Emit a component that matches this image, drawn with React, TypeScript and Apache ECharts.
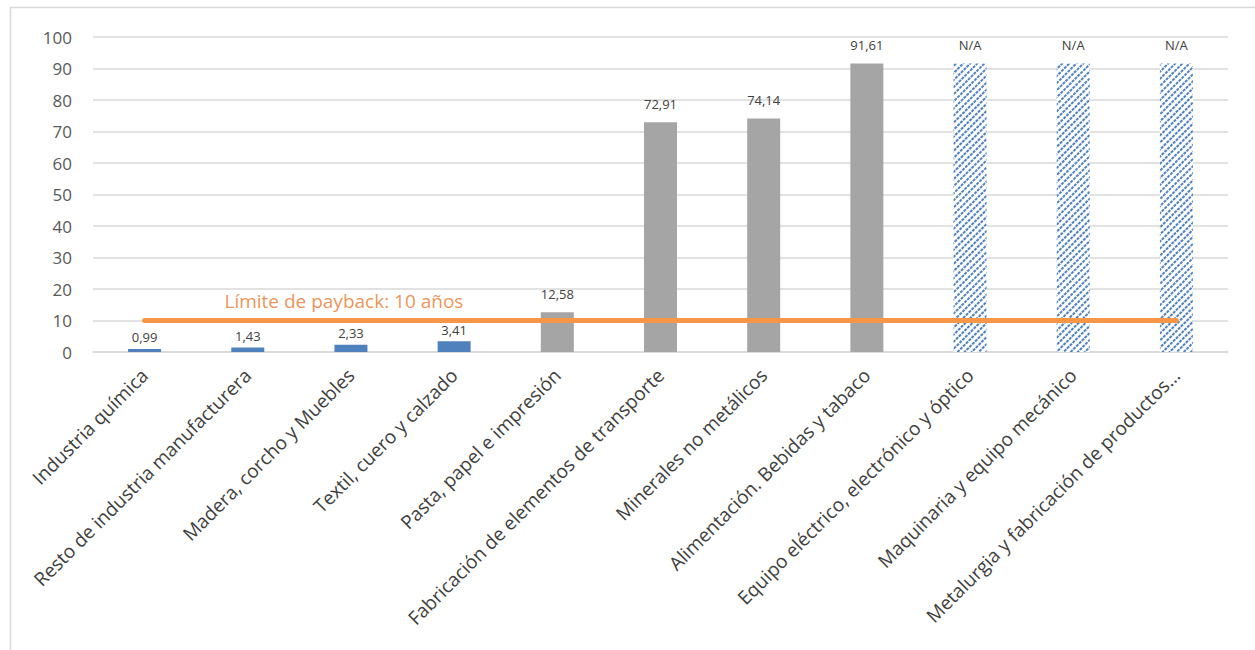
import React, { useEffect, useRef } from "react";
import * as echarts from "echarts";

const categories = [
  "Industria química",
  "Resto de industria manufacturera",
  "Madera, corcho y Muebles",
  "Textil, cuero y calzado",
  "Pasta, papel e impresión",
  "Fabricación de elementos de transporte",
  "Minerales no metálicos",
  "Alimentación. Bebidas y tabaco",
  "Equipo eléctrico, electrónico y óptico",
  "Maquinaria y equipo mecánico",
  "Metalurgia y fabricación de productos…",
];
const paybackYears: (number | null)[] = [0.99, 1.43, 2.33, 3.41, 12.58, 72.91, 74.14, 91.61, null, null, null];
const band = ["bajo", "bajo", "bajo", "bajo", "alto", "alto", "alto", "alto", "nd", "nd", "nd"];
const naPlaceholder: (number | null)[] = [null, null, null, null, null, null, null, null, 91.61, 91.61, 91.61];
const paybackLimit = [10, 10, 10, 10, 10, 10, 10, 10, 10, 10, 10];
const limitLabel = "Límite de payback: 10 años";
const limitLabelAt = 2;
const yTicks = { min: 0, max: 100, interval: 10 };

const bandColor: Record<string, string> = { bajo: "#4F81BD", alto: "#A5A5A5", nd: "#FFFFFF" };
const FONT = "'Open Sans', sans-serif";

export default function App() {
  const ref = useRef<HTMLDivElement>(null);
  useEffect(() => {
    if (!ref.current) return;
    const chart = echarts.init(ref.current, null, { renderer: "svg" });
    const option: any = {
      animation: false,
      backgroundColor: "#FFFFFF",
      textStyle: { fontFamily: FONT },
      grid: { left: 93, right: 27, top: 37, bottom: 298, containLabel: false },
      graphic: [
        {
          type: "rect",
          shape: { x: 10.5, y: 7.5, width: 1400, height: 800 },
          style: { fill: "none", stroke: "#D9D9D9", lineWidth: 1.5 },
          silent: true,
          z: -10,
        },
      ],
      xAxis: {
        type: "category",
        data: categories,
        axisTick: { show: false },
        axisLine: { show: true, lineStyle: { color: "#D9D9D9", width: 1.5 } },
        axisLabel: {
          interval: 0,
          rotate: 45,
          margin: 20,
          fontSize: 19,
          color: "#404040",
          fontFamily: FONT,
        },
      },
      yAxis: {
        type: "value",
        min: yTicks.min,
        max: yTicks.max,
        interval: yTicks.interval,
        axisLine: { show: false },
        axisTick: { show: false },
        axisLabel: { fontSize: 17, color: "#595959", margin: 21, fontFamily: FONT },
        splitLine: { lineStyle: { color: "#D9D9D9", width: 1.5 } },
      },
      series: [
        {
          name: "Payback",
          type: "bar",
          barWidth: 33,
          barGap: "-100%",
          data: paybackYears.map((v, i) => ({
            value: v,
            itemStyle: { color: bandColor[band[i]] },
            label: { distance: v != null && v < 10 ? 5 : 12 },
          })),
          label: {
            show: true,
            position: "top",
            fontSize: 13,
            color: "#404040",
            fontFamily: FONT,
            formatter: (p: any) => (p.value == null ? "" : Number(p.value).toFixed(2).replace(".", ",")),
          },
          z: 2,
        },
        {
          name: "N/A",
          type: "bar",
          barWidth: 33,
          barGap: "-100%",
          data: naPlaceholder,
          itemStyle: {
            color: "#FFFFFF",
            decal: {
              symbol: "rect",
              symbolSize: 1,
              dashArrayX: [[3, 1]],
              dashArrayY: [1.2, 2.8],
              rotation: -Math.PI / 4,
              color: "#4F81BD",
            },
          },
          label: {
            show: true,
            position: "top",
            distance: 12,
            fontSize: 13,
            color: "#404040",
            fontFamily: FONT,
            formatter: "N/A",
          },
          z: 2,
        },
        {
          name: "Límite",
          type: "line",
          data: paybackLimit,
          symbol: "none",
          lineStyle: { color: "#F79646", width: 5, cap: "round" },
          z: 5,
        },
        {
          name: "Etiqueta límite",
          type: "scatter",
          data: [[limitLabelAt, paybackLimit[limitLabelAt]]],
          symbolSize: 2,
          itemStyle: { color: "rgba(0,0,0,0)" },
          label: {
            show: true,
            position: "top",
            distance: 9,
            offset: [-7, 0],
            formatter: limitLabel,
            fontSize: 19,
            color: "#E8772A",
            fontFamily: FONT,
          },
          z: 6,
        },
      ],
    };
    chart.setOption(option);
    return () => chart.dispose();
  }, []);
  return (
    <div
      ref={ref}
      style={{ position: "fixed", left: 0, top: 0, width: 1255, height: 650 }}
    />
  );
}
